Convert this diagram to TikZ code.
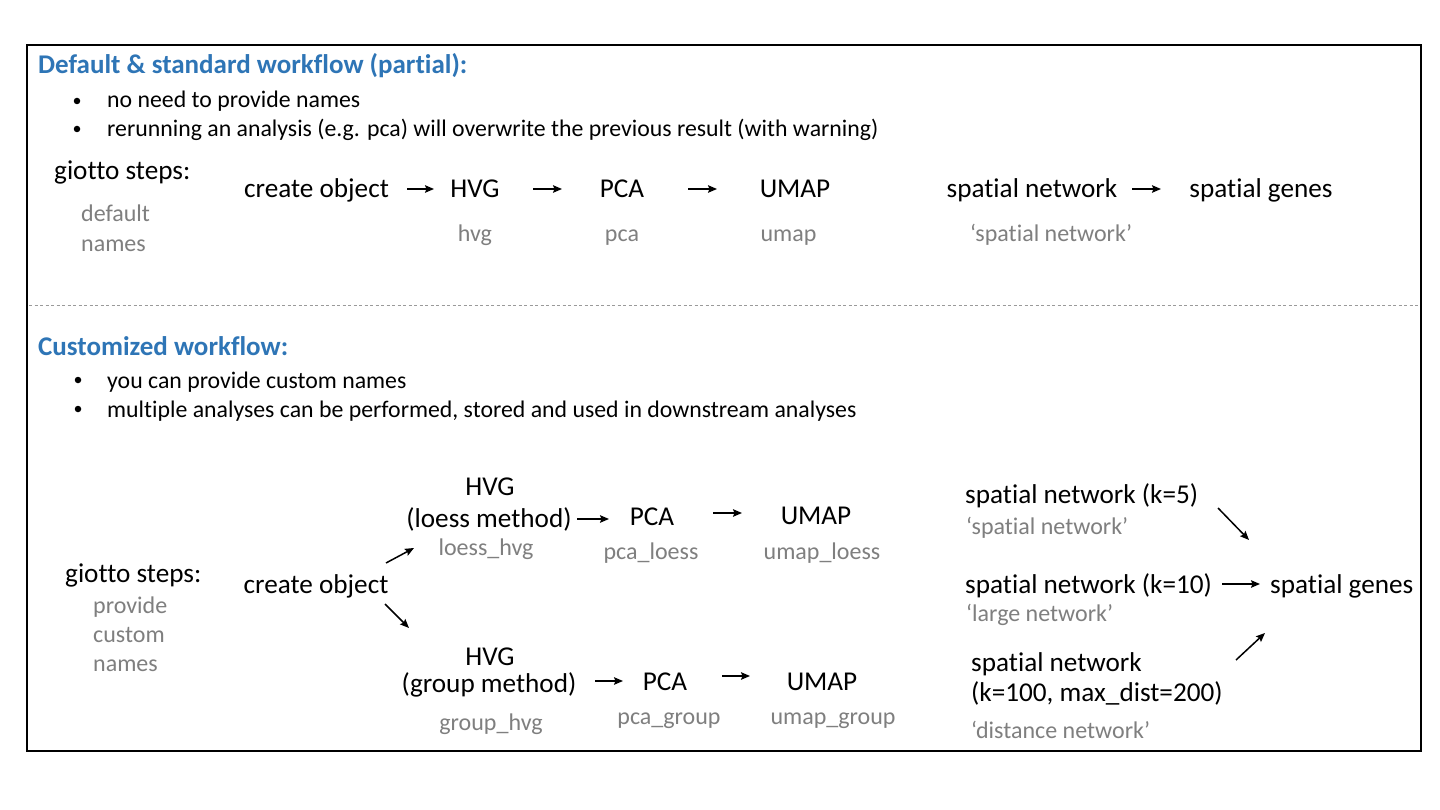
\documentclass[tikz,border=0pt]{standalone}
\usepackage{fontspec}
\setmainfont{Carlito}[Ligatures=NoCommon]
\usetikzlibrary{arrows.meta}
\definecolor{tblue}{HTML}{2E75B6}
\definecolor{tgray}{HTML}{7F7F7F}
\definecolor{dgray}{HTML}{9A9A9A}
\begin{document}
\begin{tikzpicture}[x=1pt,y=-1pt,
 every node/.style={inner sep=0pt},
 main/.style={anchor=base, font=\fontsize{27.2}{32}\selectfont},
 mainw/.style={anchor=base west, font=\fontsize{27.2}{32}\selectfont},
 lbl/.style={anchor=base, text=tgray, font=\fontsize{24}{29}\selectfont},
 lblw/.style={anchor=base west, text=tgray, font=\fontsize{24}{29}\selectfont},
 bul/.style={anchor=base west, font=\fontsize{23.8}{28}\selectfont},
 dot/.style={circle, fill=black, minimum size=6.5pt},
 ttl/.style={anchor=base west, text=tblue, font=\bfseries\fontsize{27}{32}\selectfont},
 arr/.style={-{Stealth[length=9pt,width=7.5pt,inset=1.5pt]}, line width=1.5pt}]
\useasboundingbox (0,0) rectangle (1440,810);
\fill[white] (0,0) rectangle (1440,810);
\draw[line width=2pt] (27,45) rectangle (1421,751);
\draw[dgray, line width=0.8pt, dash pattern=on 3pt off 2.5pt] (29,305) -- (1419,305);

% ---------- top section ----------
\node[ttl] (t1) at (38,74) {Default \& standard workflow (partial):};
\node[dot] (b1) at (77,101) {};
\node[bul] (b1t) at (107,108) {no need to provide names};
\node[dot] (b2) at (77,129) {};
\node[bul] (b2t) at (107,137) {rerunning an analysis (e.g. pca) will overwrite the previous result (with warning)};

\node[mainw] (gs1) at (54,180) {giotto steps:};
\node[lblw] (dn1) at (81,222) {default};
\node[lblw] (dn2) at (81,252) {names};

\node[main] (co1) at (316.5,198) {create object};
\node[main] (hvg1) at (475,198) {HVG};
\node[main] (pca1) at (622,198) {PCA};
\node[main] (umap1) at (795,198) {UMAP};
\node[main] (sn1) at (1032,198) {spatial network};
\node[main] (sg1) at (1261,198) {spatial genes};

\node[lbl] (l_hvg1) at (475,242) {hvg};
\node[lbl] (l_pca1) at (622,242) {pca};
\node[lbl] (l_umap1) at (788.5,242) {umap};
\node[lbl] (l_sn1) at (1051,242) {‘spatial network’};

\coordinate (a1s) at (407,189); \coordinate (a1e) at (434,189);
\coordinate (a2s) at (533,189); \coordinate (a2e) at (562,189);
\coordinate (a3s) at (688,189); \coordinate (a3e) at (717,189);
\coordinate (a4s) at (1132,189); \coordinate (a4e) at (1161,189);
\draw[arr] (a1s) -- (a1e);
\draw[arr] (a2s) -- (a2e);
\draw[arr] (a3s) -- (a3e);
\draw[arr] (a4s) -- (a4e);

% ---------- bottom section ----------
\node[ttl] (t2) at (38,355) {Customized workflow:};
\node[dot] (b3) at (78,380) {};
\node[bul] (b3t) at (107,388) {you can provide custom names};
\node[dot] (b4) at (78,409) {};
\node[bul] (b4t) at (107,417) {multiple analyses can be performed, stored and used in downstream analyses};

\node[mainw] (gs2) at (65,582) {giotto steps:};
\node[lblw] (pn1) at (93,613) {provide};
\node[lblw] (pn2) at (93,642) {custom};
\node[lblw] (pn3) at (93,671) {names};

\node[main] (co2) at (316,593) {create object};

\node[main] (hvgL) at (490,495) {HVG};
\node[main] (hvgLm) at (489,527) {(loess method)};
\node[lbl] (l_hvgL) at (486,555) {loess\_hvg};
\node[main] (pcaL) at (652,525) {PCA};
\node[main] (umapL) at (816,524) {UMAP};
\node[lbl] (l_pcaL) at (651,559) {pca\_loess};
\node[lbl] (l_umapL) at (822,559) {umap\_loess};

\node[main] (hvgG) at (490,665) {HVG};
\node[main] (hvgGm) at (489,692) {(group method)};
\node[lbl] (l_hvgG) at (491,730) {group\_hvg};
\node[main] (pcaG) at (665,690) {PCA};
\node[main] (umapG) at (822,690) {UMAP};
\node[lbl] (l_pcaG) at (669,724) {pca\_group};
\node[lbl] (l_umapG) at (833,724) {umap\_group};

\node[mainw] (sn5) at (965,503) {spatial network (k=5)};
\node[lblw] (l_sn5) at (966,534) {‘spatial network’};
\node[mainw] (sn10) at (965,593) {spatial network (k=10)};
\node[lblw] (l_sn10) at (966,621) {‘large network’};
\node[mainw] (sn100a) at (971,671) {spatial network};
\node[mainw] (sn100b) at (971,701) {(k=100, max\_dist=200)};
\node[lblw] (l_sn100) at (971,738) {‘distance network’};
\node[mainw] (sg2) at (1270,593) {spatial genes};

\coordinate (c1s) at (386,563); \coordinate (c1e) at (414,548);
\coordinate (c2s) at (385,604); \coordinate (c2e) at (409,628);
\coordinate (c3s) at (577,519); \coordinate (c3e) at (609,519);
\coordinate (c4s) at (713,513); \coordinate (c4e) at (742,513);
\coordinate (c5s) at (595,681); \coordinate (c5e) at (623,681);
\coordinate (c6s) at (722,676); \coordinate (c6e) at (750,676);
\coordinate (c7s) at (1218,508); \coordinate (c7e) at (1249,540);
\coordinate (c8s) at (1222,584); \coordinate (c8e) at (1260,584);
\coordinate (c9s) at (1236,660); \coordinate (c9e) at (1265,633);
\foreach \p in {c1,c2,c3,c4,c5,c6,c7,c8,c9} \draw[arr] (\p s) -- (\p e);
\end{tikzpicture}
\end{document}
